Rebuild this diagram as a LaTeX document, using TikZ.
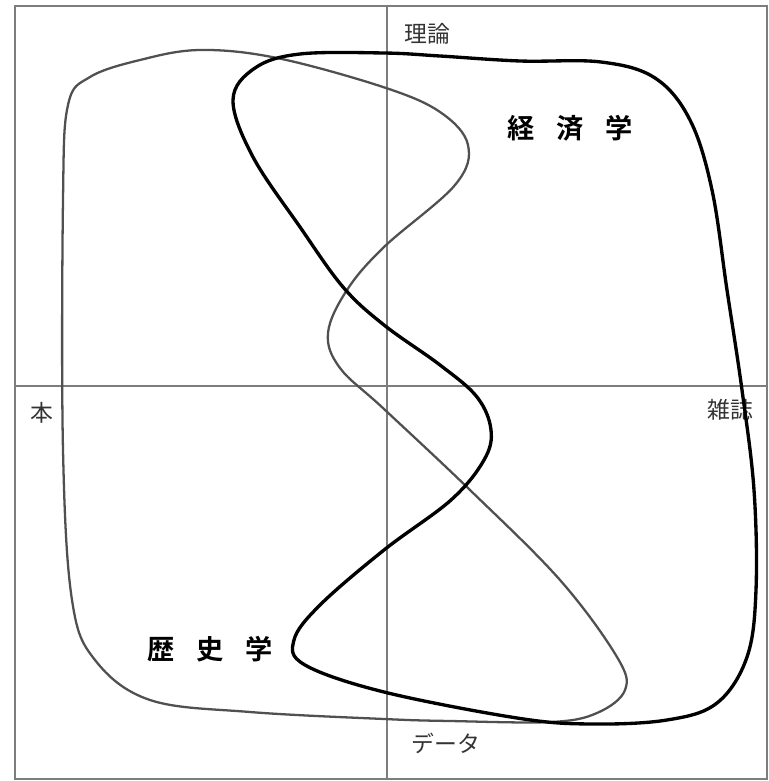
\documentclass[tikz,border=0pt]{standalone}
\usepackage{fontspec}
\newfontfamily\jp{Noto Sans CJK JP}
\newfontfamily\jpbold{Noto Sans CJK JP Bold}
\definecolor{frame}{RGB}{125,125,125}
\definecolor{histline}{RGB}{80,80,80}
\usetikzlibrary{positioning}
\tikzset{
  axislabel/.style={font=\jp\fontsize{13}{14}\selectfont, text=black!80, inner sep=0pt},
  fieldlabel/.style={font=\jpbold\fontsize{15.5}{16}\selectfont, inner sep=0pt},
}
\begin{document}
\begin{tikzpicture}[x=0.02cm, y=-0.02cm]
  \useasboundingbox (0,0) rectangle (768,781);
  % frame and axes
  \draw[frame, line width=1pt] (15,6) rectangle (767,779);
  \coordinate (top) at (387,6);
  \coordinate (bottom) at (387,779);
  \coordinate (left) at (15,386);
  \coordinate (right) at (767,386);
  \draw[frame, line width=1pt] (top) -- (bottom);
  \draw[frame, line width=1pt] (left) -- (right);
  % axis labels
  \node[axislabel] (theory) at (427,34) {理論};
  \node[axislabel] (book) at (42,413) {本};
  \node[axislabel] (magazine) at (730,410) {雑誌};
  \node[axislabel] (data) at (446,743) {データ};
  % history
  \draw[histline, line width=1.3pt] plot[smooth cycle, tension=0.6] coordinates {
    (200,50) (277,58) (383,87) (440,112) (468,145) (455,185) (384,247)
    (347,290) (328,333) (340,368) (384,409) (470,490) (560,580) (617,657)
    (625,690) (597,713) (551,722) (450,721) (384,719) (250,712) (150,700)
    (95,660) (72,600) (63,450) (63,200) (68,105) (90,77) (140,60)};
  % economics
  \draw[black, line width=1.9pt] plot[smooth cycle, tension=0.6] coordinates {
    (233,100) (253,157) (300,227) (343,287) (384,325) (440,365) (477,397)
    (491,430) (484,460) (451,500) (384,550) (320,605) (294,640) (305,665)
    (384,692) (517,718) (590,724) (667,720) (717,703) (747,657) (756,590)
    (754,490) (742,390) (727,290) (712,190) (690,120) (655,78) (601,62)
    (520,61) (440,56) (384,53) (300,54) (255,68)};
  \node[fieldlabel] (econ) at (570,128) {経\hspace{0.43cm}済\hspace{0.43cm}学};
  \node[fieldlabel] (hist) at (210,649) {歴\hspace{0.43cm}史\hspace{0.43cm}学};
\end{tikzpicture}
\end{document}
